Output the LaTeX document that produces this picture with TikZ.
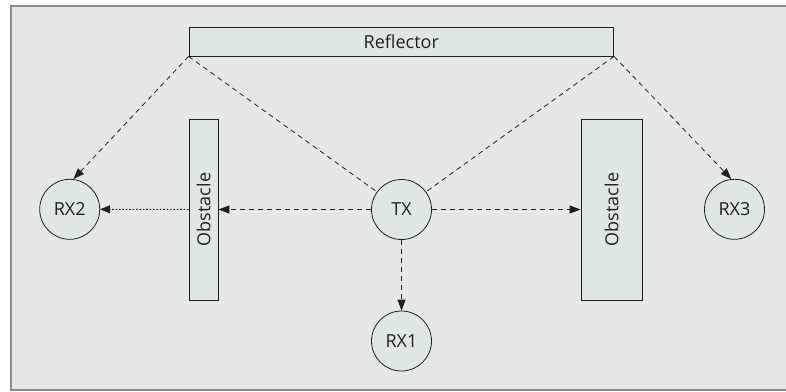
\documentclass[tikz,border=0pt]{standalone}
\usepackage{fontspec}
\setmainfont{Open Sans}
\usetikzlibrary{arrows.meta}
\definecolor{bggray}{HTML}{E6E7E8}
\definecolor{boxfill}{HTML}{DFE7E4}
\definecolor{framegray}{HTML}{8C8C8C}
\definecolor{ink}{HTML}{231F20}
\begin{document}
\begin{tikzpicture}[x=1pt,y=-1pt,
  every node/.style={font=\fontsize{18}{21}\selectfont, text=ink},
  boxnode/.style={draw=ink, line width=0.8pt, fill=boxfill, rectangle, inner sep=0pt},
  station/.style={draw=ink, line width=0.8pt, fill=boxfill, circle, minimum size=60pt, inner sep=0pt},
  ray/.style={draw=ink, line width=0.8pt, dash pattern=on 5pt off 4pt},
  tip/.style={-{Triangle[length=11pt,width=8pt]}},
  dotray/.style={draw=ink, line width=1pt, dash pattern=on 1.6pt off 1.8pt, -{Triangle[length=10pt,width=8pt]}}
]
\useasboundingbox (0,0) rectangle (786,391);
\fill[white] (0,0) rectangle (786,391);
\fill[bggray] (11,6) rectangle (786,390);
\draw[framegray, line width=1.3pt] (786,6) -- (11,6) -- (11,390) -- (786,390);

\node[boxnode, minimum width=424.7pt, minimum height=29pt] (refl) at (401.3,41.5) {Reflector};
\node[boxnode, minimum width=29pt, minimum height=181pt] (obsL) at (203.5,209.5) {};
\node[rotate=90] at (obsL.center) {Obstacle};
\node[boxnode, minimum width=61pt, minimum height=181pt] (obsR) at (611.5,209.5) {};
\node[rotate=90] at (obsR.center) {Obstacle};

\node[station] (tx) at (401.5,209.5) {TX};
\node[station] (rx2) at (69.7,209.3) {RX2};
\node[station] (rx3) at (734.5,209.3) {RX3};
\node[station] (rx1) at (401.5,341) {RX1};

\draw[ray] (refl.south west) -- (tx);
\draw[ray] (refl.south east) -- (tx);
\draw[ray, tip] (refl.south west) -- (rx2.83);
\draw[ray, tip] (refl.south east) -- (rx3.96);
\draw[ray, tip] (tx) -- (obsL);
\draw[ray, tip] (tx) -- (obsR);
\draw[ray, tip] (tx) -- (rx1);
\draw[dotray] (obsL.west) -- (rx2.east);
\end{tikzpicture}
\end{document}
